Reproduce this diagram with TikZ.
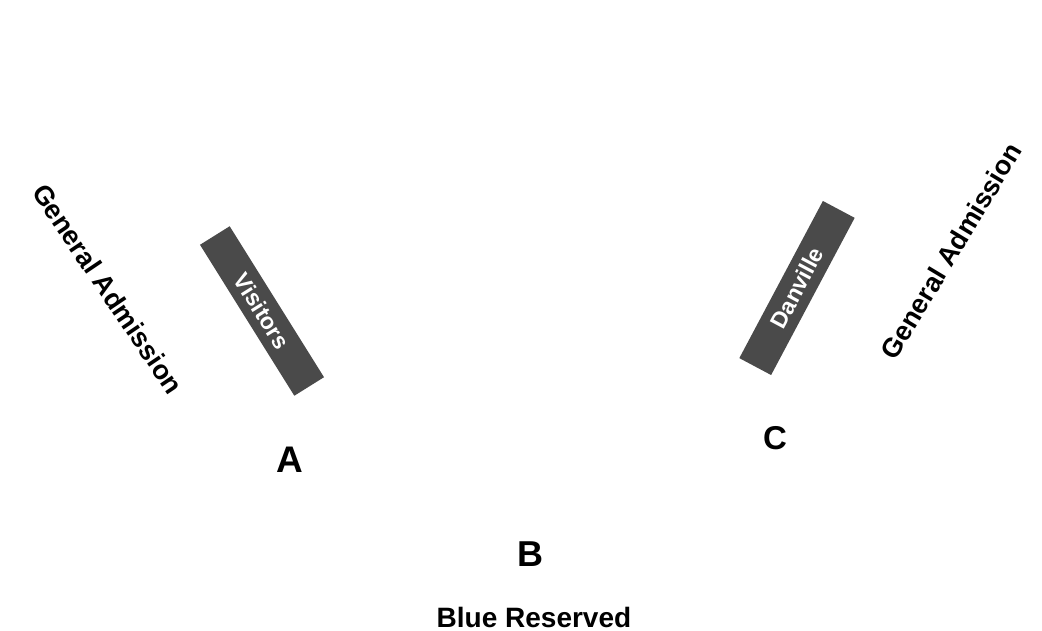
\documentclass[tikz,border=0pt]{standalone}
\usepackage{fontspec}
\setmainfont{Liberation Sans}
\definecolor{standgray}{RGB}{74,74,74}
\begin{document}
\begin{tikzpicture}[
    x=1pt, y=1pt,
    every node/.style={inner sep=0, font=\bfseries},
    section/.style={font=\fontsize{28}{30}\selectfont\bfseries},
    side/.style={font=\fontsize{27}{29}\selectfont\bfseries},
    letter/.style={font=\fontsize{#1}{#1}\selectfont\bfseries},
    stand/.style={fill=standgray, text=white, minimum width=178, minimum height=35,
      font=\fontsize{23}{25}\selectfont\bfseries}
  ]
  \useasboundingbox (0,0) rectangle (1042,631);
  \node[side, rotate=-56] (galeft) at (108,342) {General Admission};
  \node[stand, rotate=-58] (visitors) at (262,320) {Visitors};
  \node[letter=37] (a) at (290,171) {A};
  \node[letter=36] (b) at (530,77) {B};
  \node[section] (blue) at (534,14) {Blue Reserved};
  \node[letter=33] (c) at (775,193) {C};
  \node[stand, minimum height=36, rotate=62] (danville) at (797,343) {Danville};
  \node[side, rotate=59] (garight) at (951,380) {General Admission};
\end{tikzpicture}
\end{document}
